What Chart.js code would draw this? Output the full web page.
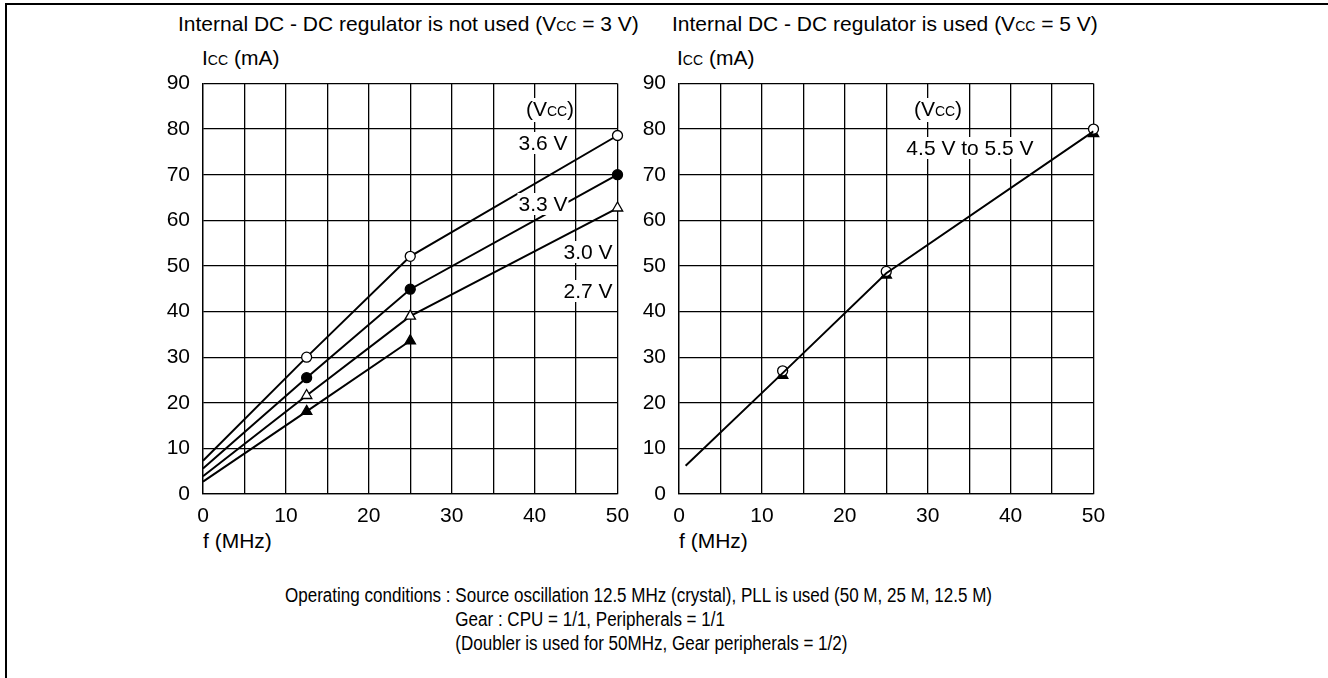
<!DOCTYPE html>
<html>
<head>
<meta charset="utf-8">
<script src="https://cdn.jsdelivr.net/npm/chart.js@4/dist/chart.umd.min.js"></script>
<style>
    body { margin: 0; background: #fff; }
    #page { position: relative; width: 1328px; height: 678px; overflow: hidden; font-family: "Liberation Sans", Arial, sans-serif; color: #000; }
    .frame { position: absolute; left: 5px; top: 3px; width: 1330px; height: 700px; border-top: 2px solid #000; border-left: 2px solid #000; }
    .txt { position: absolute; font-size: 21px; line-height: 24px; white-space: nowrap; }
    .sub { font-size: 14px; }
    .lbl { position: absolute; font-size: 21px; line-height: 22px; white-space: nowrap; background: #fff; padding: 0 1px; transform: translate(-50%, -50%); }
    .wrap { position: absolute; }
    #notes { position: absolute; left: 285px; top: 583px; font-size: 20px; line-height: 24px; white-space: nowrap; transform-origin: 0 0; }
    #notes td { padding: 0; vertical-align: top; }
</style>
</head>
<body>
<div id="page">
    <div class="frame"></div>

    <div class="txt" style="left:178px; top:12px;">Internal DC - DC regulator is not used (V<span class="sub">CC</span> = 3 V)</div>
    <div class="txt" style="left:672px; top:12px;">Internal DC - DC regulator is used (V<span class="sub">CC</span> = 5 V)</div>
    <div class="txt" style="left:202px; top:46px;">I<span class="sub">CC</span> (mA)</div>
    <div class="txt" style="left:677px; top:46px;">I<span class="sub">CC</span> (mA)</div>
    <div class="txt" style="left:203px; top:529px;">f (MHz)</div>
    <div class="txt" style="left:679px; top:529px;">f (MHz)</div>

    <div class="wrap" style="left:150px; top:70px;"><canvas id="leftChart" width="480" height="460"></canvas></div>
    <div class="wrap" style="left:626px; top:70px;"><canvas id="rightChart" width="480" height="460"></canvas></div>

    <div class="lbl" style="left:550px; top:110px;">(V<span class="sub">CC</span>)</div>
    <div class="lbl" style="left:543px; top:143px;">3.6 V</div>
    <div class="lbl" style="left:543px; top:204px;">3.3 V</div>
    <div class="lbl" style="left:588px; top:252px;">3.0 V</div>
    <div class="lbl" style="left:588px; top:291px;">2.7 V</div>

    <div class="lbl" style="left:938px; top:110px;">(V<span class="sub">CC</span>)</div>
    <div class="lbl" style="left:970px; top:148px;">4.5 V to 5.5 V</div>

    <table id="notes" cellspacing="0">
        <tr><td>Operating conditions :&nbsp;</td><td>Source oscillation 12.5 MHz (crystal), PLL is used (50 M, 25 M, 12.5 M)</td></tr>
        <tr><td></td><td>Gear : CPU = 1/1, Peripherals = 1/1</td></tr>
        <tr><td></td><td>(Doubler is used for 50MHz, Gear peripherals = 1/2)</td></tr>
    </table>
</div>

<script>
// left panel: Vcc = 3 V, no regulator
const freqL = [0, 12.5, 25, 50];
const icc36 = [7.3, 30, 52.1, 78.6];
const icc33 = [5.6, 25.5, 44.9, 70];
const icc30 = [3.9, 21.6, 39, 62.7];
const freq27 = [0, 12.5, 25];
const icc27 = [2.7, 18.1, 33.6];

// right panel: Vcc = 5 V, regulator used
const freqR = [0.8, 12.5, 25, 50];
const iccR = [6.2, 26.5, 48.4, 79.5];
const freqRMarks = [12.5, 25, 50];
const iccRCircle = [27, 48.8, 80];
const iccRTriangle = [26, 48, 79];

const xTicks = [0, 10, 20, 30, 40, 50];
const yTicks = [0, 10, 20, 30, 40, 50, 60, 70, 80, 90];

Chart.defaults.font.family = '"Liberation Sans", Arial, sans-serif';
Chart.defaults.font.size = 21;
Chart.defaults.color = '#000';

function pts(xs, ys) {
    return ys.map((y, i) => ({ x: xs[i], y: y }));
}

// first point of a curve is only where the line starts, no marker
function radii(n, r) {
    return Array.from({ length: n }, (_, i) => i === 0 ? 0 : r);
}

function series(xs, ys, style, filled, r) {
    return {
        data: pts(xs, ys),
        clip: false,
        borderColor: '#000',
        borderWidth: 2,
        pointStyle: style,
        pointRadius: radii(ys.length, r),
        pointBackgroundColor: filled ? '#000' : '#fff',
        pointBorderColor: '#000',
        pointBorderWidth: 1.3,
        showLine: true
    };
}

function marks(xs, ys, style, filled, r) {
    return {
        data: pts(xs, ys),
        clip: false,
        showLine: false,
        pointStyle: style,
        pointRadius: r,
        pointBackgroundColor: filled ? '#000' : '#fff',
        pointBorderColor: '#000',
        pointBorderWidth: 1.3
    };
}

// drop the automatic room chart.js keeps for the edge tick labels
function noEdgePadding(s) {
    s.paddingLeft = 0;
    s.paddingRight = 0;
    s.paddingTop = 0;
    s.paddingBottom = 0;
}

function makeOptions() {
    return {
        responsive: false,
        animation: false,
        devicePixelRatio: 1,
        layout: { padding: { left: 0, right: 12.5, top: 13.5, bottom: 6 } },
        plugins: { legend: { display: false }, tooltip: { enabled: false } },
        scales: {
            x: {
                type: 'linear',
                min: 0,
                max: 50,
                afterFit: s => { s.height = 30; noEdgePadding(s); },
                ticks: {
                    stepSize: 5,
                    padding: 10,
                    maxRotation: 0,
                    autoSkip: false,
                    callback: v => xTicks.includes(v) ? v : ''
                },
                grid: { color: '#000', lineWidth: 1.3, drawTicks: false },
                border: { color: '#000', width: 1.3 }
            },
            y: {
                type: 'linear',
                min: 0,
                max: 90,
                afterFit: s => { s.width = 53; noEdgePadding(s); },
                ticks: {
                    stepSize: 10,
                    padding: 13,
                    callback: v => yTicks.includes(v) ? v : ''
                },
                grid: { color: '#000', lineWidth: 1.3, drawTicks: false },
                border: { color: '#000', width: 1.3 }
            }
        }
    };
}

new Chart(document.getElementById('leftChart'), {
    type: 'scatter',
    data: {
        datasets: [
            series(freqL, icc36, 'circle', false, 5),
            series(freqL, icc33, 'circle', true, 5),
            series(freqL, icc30, 'triangle', false, 6),
            series(freq27, icc27, 'triangle', true, 6)
        ]
    },
    options: makeOptions()
});

new Chart(document.getElementById('rightChart'), {
    type: 'scatter',
    data: {
        datasets: [
            { data: pts(freqR, iccR), showLine: true, borderColor: '#000', borderWidth: 2, pointRadius: 0 },
            marks(freqRMarks, iccRCircle, 'circle', false, 5),
            marks(freqRMarks, iccRTriangle, 'triangle', true, 6)
        ]
    },
    options: makeOptions()
});

// squeeze the notes block to the narrow look of the original
const notes = document.getElementById('notes');
const w = notes.getBoundingClientRect().width;
notes.style.transform = 'scaleX(' + (707 / w) + ')';
</script>
</body>
</html>
